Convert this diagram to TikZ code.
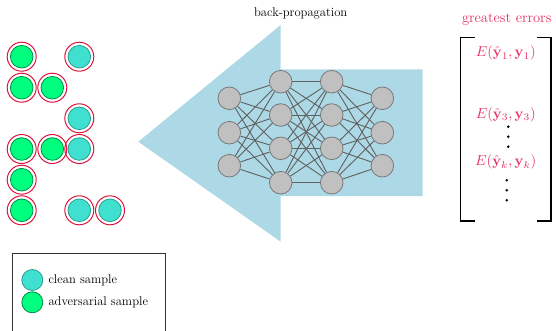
\documentclass[tikz,border=0pt]{standalone}
\usepackage{amsmath}
\definecolor{crim}{HTML}{DC143C}
\definecolor{crimtext}{HTML}{E8335F}
\definecolor{advgreen}{HTML}{00FF7F}
\definecolor{cleancyan}{HTML}{40E0D0}
\definecolor{arrowblue}{HTML}{ADD8E6}
\definecolor{nnfill}{HTML}{C0C0C0}
\definecolor{nnedge}{HTML}{606060}
\begin{document}
\begin{tikzpicture}[x=1pt,y=-1pt,
  base/.style={circle,inner sep=0pt,minimum size=22.6pt,line width=0.8pt},
  adv/.style={base,fill=advgreen,draw=advgreen!55!black},
  clean/.style={base,fill=cleancyan,draw=cleancyan!70!black},
  ring/.style={draw=crim,line width=1pt},
  neuron/.style={circle,inner sep=0pt,minimum size=22.6pt,fill=nnfill,draw=nnedge!85,line width=0.8pt},
  conn/.style={draw=nnedge,line width=0.9pt},
  txt/.style={font=\fontsize{12.6}{15}\selectfont},
  mth/.style={text=crimtext,inner sep=0pt,scale=1.45},
  legc/.style={circle,inner sep=0pt,minimum size=21pt,line width=0.8pt},
  dot/.style={circle,fill=black,inner sep=0pt,minimum size=2.8pt}]
\useasboundingbox (0,0) rectangle (556,330);
\clip (0,0) rectangle (556,330);

% big arrow
\fill[arrowblue] (138.3,141.7) -- (280.7,25) -- (280.7,69.3) -- (422.7,69.3) -- (422.7,196) -- (280.7,196) -- (280.7,241.7) -- cycle;

\node[txt] (bp) at (300.7,13.3) {back-propagation};

% samples
\foreach \n/\st/\x/\y in {a1/adv/21.7/56.7, a2/clean/79.3/56.7,
  b1/adv/21.7/87.7, b2/adv/52.3/87.7,
  c1/clean/79.3/118.3,
  d1/adv/21.7/149, d2/adv/52.3/149, d3/clean/79.3/149,
  e1/adv/21.7/179.7,
  f1/adv/21.7/210.3, f2/clean/79.3/210.3, f3/clean/110/210.3}{
  \node[\st] (\n) at (\x,\y) {};
  \draw[ring] (\n.center) circle (14.5);
}

% network
\foreach \i/\y in {1/98.3,2/132.7,3/165.7}{
  \node[neuron] (L1-\i) at (229.3,\y) {};
  \node[neuron] (L4-\i) at (382.3,\y) {};
}
\foreach \i/\y in {1/81.7,2/115,3/148.3,4/182.7}{
  \node[neuron] (L2-\i) at (280.7,\y) {};
  \node[neuron] (L3-\i) at (331.7,\y) {};
}
\foreach \i in {1,2,3}{\foreach \j in {1,2,3,4}{
  \draw[conn] (L1-\i) -- (L2-\j);
  \draw[conn] (L3-\j) -- (L4-\i);
}}
\foreach \i in {1,2,3,4}{\foreach \j in {1,2,3,4}{
  \draw[conn] (L2-\i) -- (L3-\j);
}}

% errors
\node[font=\fontsize{14.5}{17}\selectfont,text=crimtext] (ge) at (506.7,20) {greatest errors};
\draw[line width=1.2pt] (475,37.7) -- (460.7,37.7) -- (460.7,221) -- (475,221);
\draw[line width=1.2pt] (536.7,37.7) -- (551,37.7) -- (551,221) -- (536.7,221);
\node[mth] (e1) at (505.7,53.3) {$E(\hat{\mathbf{y}}_1,\mathbf{y}_1)$};
\node[mth] (e3) at (505.7,115) {$E(\hat{\mathbf{y}}_3,\mathbf{y}_3)$};
\node[mth] (ek) at (505.7,162.3) {$E(\hat{\mathbf{y}}_k,\mathbf{y}_k)$};
\foreach \y [count=\k] in {126.7,136.7,146.7}{\node[dot] (da\k) at (508.3,\y) {};}
\foreach \y [count=\k] in {180.3,190.3,200.3}{\node[dot] (db\k) at (506.7,\y) {};}

% legend
\draw[line width=0.8pt,draw=black!80] (12.7,340) -- (12.7,253.3) -- (165.7,253.3) -- (165.7,340);
\node[legc,fill=cleancyan,draw=cleancyan!70!black] (lc) at (32.3,280) {};
\node[legc,fill=advgreen,draw=advgreen!55!black] (la) at (32.3,302.3) {};
\node[txt,anchor=west,inner sep=0pt] (lct) at (48.3,280) {clean sample};
\node[txt,anchor=west,inner sep=0pt] (lat) at (48.3,302.3) {adversarial sample};
\end{tikzpicture}
\end{document}
